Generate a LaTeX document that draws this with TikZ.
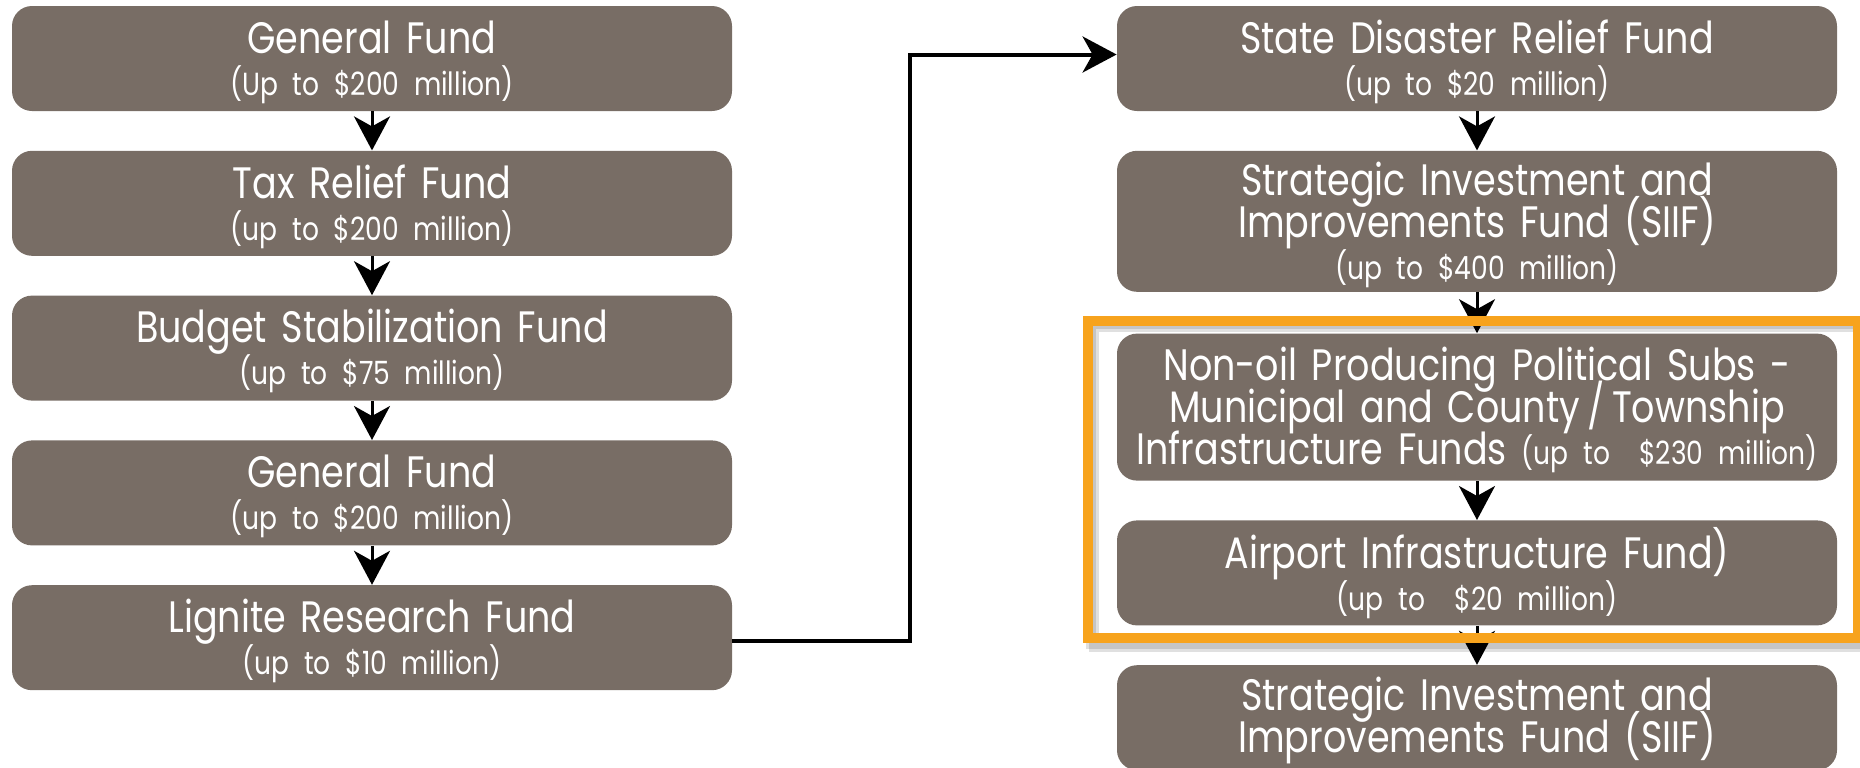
\documentclass[tikz,border=0pt]{standalone}
\usepackage{fontspec}
\setmainfont[FakeStretch=0.83,WordSpace=0.8]{Poppins}
\usetikzlibrary{positioning,arrows.meta}
\definecolor{fundgray}{RGB}{120,109,101}
\definecolor{hiorange}{RGB}{247,163,29}
\tikzstyle{fundbox} = [fill=fundgray, text=white, rectangle, rounded corners=10pt,
    text width=352pt, align=center, inner xsep=4pt, inner ysep=2pt,
    minimum height=52.5pt,
    font={\fontsize{22}{21}\selectfont\lineskiplimit=-30pt},
    execute at begin node={\rule{0pt}{20pt}}]
\tikzstyle{flowarrow} = [draw=black, line width=1.5pt,
    -{Stealth[length=17pt,width=18pt,inset=5pt]}]
\tikzstyle{linkarrow} = [draw=black, line width=2pt,
    -{Stealth[length=17pt,width=18pt,inset=5pt]}]
\tikzstyle{hilite} = [draw=hiorange, line width=5pt]
\tikzstyle{hishadow} = [draw=black, opacity=0.12, line width=5pt]
\newcommand{\amt}[1]{{\fontsize{16}{21}\selectfont #1}}

\begin{document}
\begin{tikzpicture}
\useasboundingbox (0,0) rectangle (930pt,-383.5pt);
% left column
\node[fundbox] (gf1) at (186pt,-29.25pt) {General Fund\\\amt{(Up to \$200 million)}};
\node[fundbox, below=19.5pt of gf1] (trf) {Tax Relief Fund\\\amt{(up to \$200 million)}};
\node[fundbox, below=19.5pt of trf] (bsf) {Budget Stabilization Fund\\\amt{(up to \$75 million)}};
\node[fundbox, below=19.5pt of bsf] (gf2) {General Fund\\\amt{(up to \$200 million)}};
\node[fundbox, below=19.5pt of gf2] (lig) {Lignite Research Fund\\\amt{(up to \$10 million)}};
% right column
\node[fundbox] (sdr) at (738.5pt,-29.25pt) {State Disaster Relief Fund\\\amt{(up to \$20 million)}};
\node[fundbox, minimum height=70.5pt, below=19.5pt of sdr] (siif) {Strategic Investment and\\Improvements Fund (SIIF)\\\amt{(up to \$400 million)}};
\node[fundbox, minimum height=73.5pt, below=20.5pt of siif] (nonoil) {Non-oil Producing Political Subs -\\Municipal and County\,/\,Township\\Infrastructure Funds \amt{(up to\ \ \$230 million)}};
\node[fundbox, below=19.5pt of nonoil] (airport) {Airport Infrastructure Fund)\\\amt{(up to\ \ \$20 million)}};
\node[fundbox, below=19.5pt of airport] (siif2) {Strategic Investment and\\Improvements Fund (SIIF)};

\foreach \from/\to in {gf1/trf, trf/bsf, bsf/gf2, gf2/lig,
    sdr/siif, siif/nonoil, nonoil/airport, airport/siif2}
  \draw[flowarrow] (\from) -- (\to);

\draw[linkarrow] ([yshift=-1.5pt]lig.east) -- ++(89pt,0) |- ([yshift=2pt]sdr.west);

% highlight frame
\draw[hishadow] ([xshift=-11.5pt,yshift=3pt]nonoil.north west) rectangle ([xshift=13.5pt,yshift=-10.5pt]airport.south east);
\draw[hishadow] ([xshift=-13pt,yshift=4.5pt]nonoil.north west) rectangle ([xshift=12pt,yshift=-9pt]airport.south east);
\draw[hilite] ([xshift=-14.5pt,yshift=6pt]nonoil.north west) rectangle ([xshift=10.5pt,yshift=-6pt]airport.south east);
\end{tikzpicture}
\end{document}
